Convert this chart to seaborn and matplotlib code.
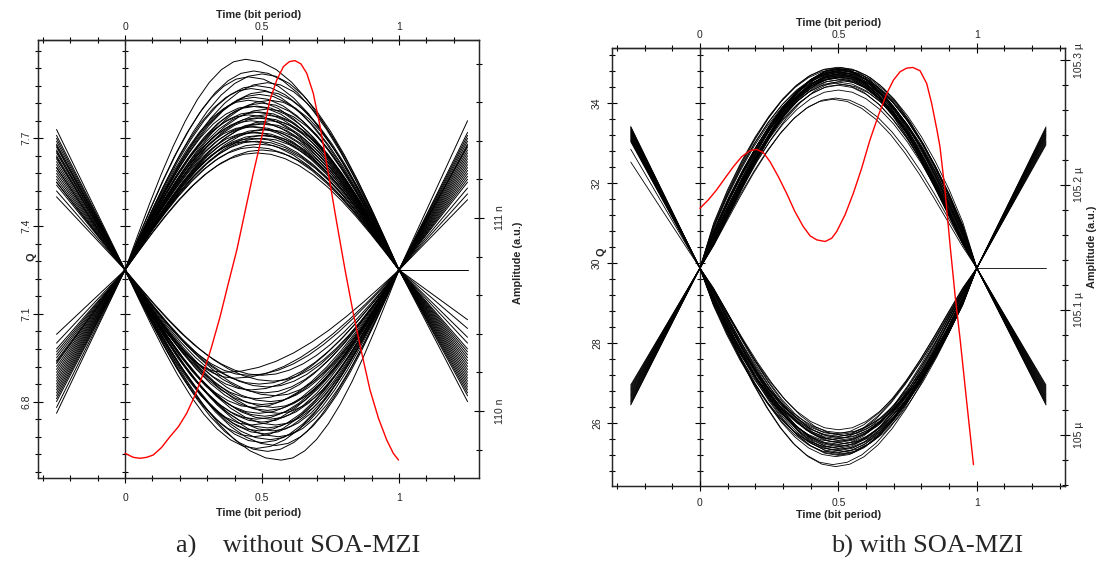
import numpy as np
import pandas as pd
import matplotlib
matplotlib.use("Agg")
import matplotlib.pyplot as plt
import seaborn as sns
from matplotlib.ticker import MultipleLocator, FixedLocator, FuncFormatter

# ---------------- data ----------------
# normalised pulse shape (one bit, u = 0..1) used for each eye trace
shape_u = [0.00, 0.05, 0.10, 0.15, 0.20, 0.25, 0.30, 0.35, 0.40, 0.45, 0.50,
           0.55, 0.60, 0.65, 0.70, 0.75, 0.80, 0.85, 0.90, 0.95, 1.00]
shape_v = [0.000, 0.156, 0.309, 0.454, 0.588, 0.707, 0.809, 0.891, 0.951, 0.988, 1.000,
           0.988, 0.951, 0.891, 0.809, 0.707, 0.588, 0.454, 0.309, 0.156, 0.000]
x_ticks = [0, 0.5, 1]

# ---- panel a) without SOA-MZI ----
cross_a = 7.25
q_ticks_a = [6.8, 7.1, 7.4, 7.7]
amp_ticks_a = [110, 111]
top_peak_a = [7.97, 7.93, 7.92, 7.91, 7.89, 7.88, 7.87, 7.86, 7.85, 7.84, 7.83, 7.83, 7.82, 7.81,
              7.81, 7.80, 7.79, 7.79, 7.78, 7.78, 7.77, 7.77, 7.76, 7.76, 7.75, 7.75, 7.74, 7.74,
              7.73, 7.73, 7.72, 7.72, 7.71, 7.71, 7.70, 7.70, 7.69, 7.69, 7.68, 7.67, 7.66, 7.65]
top_time_a = [0.44, 0.47, 0.50, 0.45, 0.52, 0.48, 0.46, 0.51, 0.49, 0.47, 0.53, 0.45, 0.50, 0.48,
              0.46, 0.52, 0.49, 0.47, 0.51, 0.45, 0.50, 0.48, 0.53, 0.46, 0.49, 0.51, 0.47, 0.45,
              0.50, 0.52, 0.48, 0.46, 0.49, 0.51, 0.47, 0.50, 0.48, 0.45, 0.49, 0.47, 0.50, 0.48]
bot_peak_a = [6.60, 6.63, 6.64, 6.65, 6.66, 6.67, 6.68, 6.68, 6.69, 6.70, 6.70, 6.71, 6.72, 6.72,
              6.73, 6.74, 6.74, 6.75, 6.76, 6.76, 6.77, 6.78, 6.78, 6.79, 6.80, 6.81, 6.82, 6.83,
              6.84, 6.85, 6.86, 6.87, 6.88, 6.89, 6.90, 6.89]
bot_time_a = [0.57, 0.52, 0.48, 0.55, 0.50, 0.53, 0.47, 0.56, 0.51, 0.49, 0.54, 0.52, 0.46, 0.55,
              0.50, 0.53, 0.48, 0.51, 0.56, 0.49, 0.52, 0.47, 0.54, 0.50, 0.53, 0.48, 0.55, 0.51,
              0.46, 0.52, 0.49, 0.54, 0.40, 0.50, 0.36, 0.45]
edge_top_l_a = [7.73, 7.71, 7.70, 7.69, 7.68, 7.675, 7.67, 7.66, 7.655, 7.65, 7.64, 7.635, 7.63,
                7.62, 7.61, 7.60, 7.60, 7.59, 7.58, 7.57, 7.56, 7.55, 7.55, 7.54, 7.52, 7.50]
edge_bot_l_a = [7.03, 7.00, 6.98, 6.97, 6.96, 6.95, 6.94, 6.935, 6.93, 6.92, 6.91, 6.90, 6.89,
                6.88, 6.87, 6.86, 6.85, 6.84, 6.83, 6.82, 6.81, 6.80, 6.78, 6.76]
edge_top_r_a = [7.76, 7.72, 7.71, 7.70, 7.69, 7.68, 7.675, 7.67, 7.66, 7.65, 7.64, 7.63, 7.62,
                7.61, 7.60, 7.59, 7.58, 7.57, 7.56, 7.55, 7.53, 7.51, 7.49]
edge_bot_r_a = [7.08, 7.05, 7.02, 7.00, 6.98, 6.97, 6.96, 6.95, 6.94, 6.93, 6.92, 6.91, 6.90,
                6.89, 6.88, 6.87, 6.86, 6.85, 6.84, 6.83, 6.82, 6.80]
red_t_a = [0.000, 0.030, 0.055, 0.079, 0.103, 0.134, 0.164, 0.195, 0.225, 0.256, 0.286, 0.316,
           0.347, 0.377, 0.408, 0.438, 0.468, 0.499, 0.529, 0.554, 0.578, 0.600, 0.620, 0.642,
           0.663, 0.687, 0.712, 0.742, 0.773, 0.803, 0.833, 0.864, 0.894, 0.925, 0.955, 0.979, 0.998]
red_amp_a = [109.781, 109.760, 109.755, 109.760, 109.772, 109.812, 109.867, 109.919, 109.988,
             110.083, 110.195, 110.333, 110.489, 110.661, 110.834, 111.033, 111.231, 111.421,
             111.611, 111.715, 111.784, 111.810, 111.815, 111.798, 111.750, 111.646, 111.473,
             111.231, 110.972, 110.731, 110.506, 110.299, 110.109, 109.962, 109.850, 109.781,
             109.746]

# ---- panel b) with SOA-MZI ----
cross_b = 29.88
q_ticks_b = [26, 28, 30, 32, 34]
amp_ticks_b = [105.0, 105.1, 105.2, 105.3]
top_peak_b = [34.90, 34.89, 34.88, 34.87, 34.86, 34.85, 34.84, 34.83, 34.82, 34.81, 34.80, 34.79,
              34.78, 34.77, 34.76, 34.75, 34.74, 34.73, 34.72, 34.71, 34.70, 34.69, 34.68, 34.67,
              34.66, 34.65, 34.64, 34.62, 34.60, 34.58, 34.56, 34.53, 34.50, 34.47, 34.45, 34.33,
              34.13, 34.10]
top_time_b = [0.50, 0.51, 0.49, 0.50, 0.52, 0.50, 0.49, 0.51, 0.50, 0.52, 0.49, 0.50, 0.51, 0.50,
              0.49, 0.52, 0.50, 0.51, 0.49, 0.50, 0.51, 0.50, 0.52, 0.49, 0.50, 0.51, 0.50, 0.49,
              0.51, 0.50, 0.52, 0.50, 0.49, 0.51, 0.50, 0.50, 0.49, 0.48]
top_sharp_b = [0.80, 1.10, 0.85, 1.15, 0.90, 1.05, 0.82, 1.12, 0.95, 0.88, 1.08, 0.84, 1.14, 0.92,
               1.02, 0.86, 1.10, 0.96, 0.83, 1.06, 0.90, 1.12, 0.98, 0.85, 1.04, 0.88, 1.10, 0.94,
               1.00, 0.90, 1.05, 0.95, 1.00, 0.92, 1.00, 1.00, 1.05, 1.10]
bot_peak_b = [25.84, 25.76, 25.74, 25.72, 25.70, 25.68, 25.66, 25.64, 25.62, 25.60, 25.58, 25.56,
              25.54, 25.52, 25.50, 25.48, 25.46, 25.44, 25.42, 25.40, 25.38, 25.36, 25.34, 25.32,
              25.30, 25.28, 25.26, 25.24, 25.22, 25.20, 25.17, 24.97, 24.92]
bot_time_b = [0.50, 0.51, 0.49, 0.50, 0.52, 0.50, 0.49, 0.51, 0.50, 0.48, 0.50, 0.51, 0.49, 0.50,
              0.52, 0.50, 0.49, 0.51, 0.50, 0.48, 0.50, 0.51, 0.49, 0.50, 0.52, 0.50, 0.49, 0.51,
              0.50, 0.50, 0.49, 0.48, 0.49]
bot_sharp_b = [1.05, 0.85, 1.12, 0.90, 1.08, 0.82, 1.15, 0.94, 0.86, 1.10, 0.92, 1.04, 0.84, 1.13,
               0.96, 0.88, 1.07, 0.90, 1.02, 0.85, 1.10, 0.95, 0.87, 1.06, 0.92, 1.00, 0.89, 1.08,
               0.97, 1.02, 0.95, 1.00, 1.00]
edge_top_l_b = [33.42, 33.40, 33.38, 33.36, 33.34, 33.32, 33.30, 33.28, 33.26, 33.24, 33.22, 33.20,
                33.18, 33.16, 33.14, 33.12, 33.10, 33.08, 33.06, 33.04, 32.85, 32.53]
edge_bot_l_b = [26.96, 26.93, 26.90, 26.87, 26.84, 26.81, 26.78, 26.75, 26.72, 26.69, 26.66, 26.63,
                26.60, 26.57, 26.54, 26.51, 26.48, 26.46]
edge_top_r_b = [33.41, 33.38, 33.36, 33.33, 33.30, 33.28, 33.25, 33.22, 33.20, 33.17, 33.14, 33.11,
                33.08, 33.05, 33.02, 32.99, 32.96]
edge_bot_r_b = [26.96, 26.93, 26.90, 26.87, 26.84, 26.81, 26.78, 26.75, 26.72, 26.69, 26.66, 26.63,
                26.60, 26.57, 26.54, 26.51, 26.48, 26.46]
red_t_b = [0.000, 0.030, 0.060, 0.090, 0.121, 0.151, 0.181, 0.205, 0.229, 0.253, 0.283, 0.313,
           0.343, 0.373, 0.398, 0.422, 0.452, 0.476, 0.494, 0.524, 0.554, 0.584, 0.614, 0.645,
           0.675, 0.699, 0.723, 0.747, 0.769, 0.795, 0.819, 0.837, 0.855, 0.867, 0.885, 0.904,
           0.922, 0.940, 0.964, 0.988]
red_amp_b = [105.1813, 105.1880, 105.1960, 105.2053, 105.2147, 105.2227, 105.2275, 105.2285,
             105.2259, 105.2187, 105.2067, 105.1933, 105.1787, 105.1667, 105.1592, 105.1560,
             105.1547, 105.1573, 105.1627, 105.1760, 105.1933, 105.2133, 105.2360, 105.2560,
             105.2733, 105.2840, 105.2907, 105.2936, 105.2941, 105.2915, 105.2813, 105.2653,
             105.2453, 105.2307, 105.1960, 105.1507, 105.1107, 105.0760, 105.0253, 104.9760]

caption_a = "a)    without SOA-MZI"
caption_b = "b) with SOA-MZI"
x_label = "Time (bit period)"
q_label = "Q"
amp_label = "Amplitude (a.u.)"

# ---------------- build long-form tables ----------------
def eye_table(cross, peaks, times, sharp=None, el=(), eb=(), er=(), ebr=(), start=0, flat=False):
    rows = []
    uid = start
    u = np.array(shape_u)
    v = np.array(shape_v)
    if sharp is None:
        sharp = [1.0] * len(peaks)
    for p, tp, k in zip(peaks, times, sharp):
        t = np.where(u <= 0.5, 2 * u * tp, tp + (2 * u - 1) * (1 - tp))
        for ti, vi in zip(t, cross + (p - cross) * v ** k):
            rows.append((uid, ti, vi))
        uid += 1
    for e in list(el) + list(eb):
        rows.append((uid, -0.25, e)); rows.append((uid, 0.0, cross)); uid += 1
    ends = list(er) + list(ebr) + ([cross] if flat else [])
    for e in ends:
        rows.append((uid, 1.0, cross)); rows.append((uid, 1.25, e)); uid += 1
    return pd.DataFrame(rows, columns=["trace", "t", "Q"])

df_a = pd.concat([
    eye_table(cross_a, top_peak_a, top_time_a, None, edge_top_l_a, edge_bot_l_a,
              edge_top_r_a, edge_bot_r_a, start=0, flat=True),
    eye_table(cross_a, bot_peak_a, bot_time_a, start=1000)])
df_b = pd.concat([
    eye_table(cross_b, top_peak_b, top_time_b, top_sharp_b, edge_top_l_b, edge_bot_l_b,
              edge_top_r_b, edge_bot_r_b, start=0, flat=True),
    eye_table(cross_b, bot_peak_b, bot_time_b, bot_sharp_b, start=1000)])
red_a = pd.DataFrame({"t": red_t_a, "amp": red_amp_a})
red_b = pd.DataFrame({"t": red_t_b, "amp": red_amp_b})

# ---------------- style ----------------
sns.set_style("ticks")
plt.rcParams["font.family"] = ["Liberation Sans", "DejaVu Sans"]
plt.rcParams["font.size"] = 7.5
plt.rcParams["axes.linewidth"] = 0.9

fig = plt.figure(figsize=(10.99, 5.63), dpi=100)
ax_a = fig.add_axes([0.0346, 0.1510, 0.4013, 0.7780])
ax_b = fig.add_axes([0.5573, 0.1371, 0.4121, 0.7783])

def tick_style(axis_obj, **kw):
    axis_obj.tick_params(which="both", direction="inout", width=0.8, color="black",
                         labelsize=7.5, **kw)
    axis_obj.tick_params(which="major", length=7)
    axis_obj.tick_params(which="minor", length=4.5)

def panel(ax, df, red, lw, xlim, ylim, qticks, ymin_loc, alim, aticks, amin, afmt,
          pads, lab_pos):
    sns.lineplot(data=df, x="t", y="Q", units="trace", estimator=None, sort=False,
                 color="black", lw=lw, ax=ax, legend=False)
    ax.set_xlim(*xlim); ax.set_ylim(*ylim)
    ax.set_xlabel(""); ax.set_ylabel("")
    ax.xaxis.set_major_locator(FixedLocator(x_ticks))
    ax.xaxis.set_minor_locator(MultipleLocator(0.1))
    ax.yaxis.set_major_locator(FixedLocator(qticks))
    ax.yaxis.set_minor_locator(ymin_loc())
    ax.xaxis.set_major_formatter(FuncFormatter(lambda v, p: f"{v:g}"))
    ax.yaxis.set_major_formatter(FuncFormatter(lambda v, p: f"{round(v, 2):g}"))
    tick_style(ax, left=True, bottom=True, top=False, right=False)
    ax.tick_params(axis="y", pad=pads[0], labelrotation=90)
    ax.tick_params(axis="x", pad=pads[2])
    for lb in ax.get_yticklabels():
        lb.set_va("center")

    # top time axis
    sx = ax.secondary_xaxis("top")
    sx.xaxis.set_major_locator(FixedLocator(x_ticks))
    sx.xaxis.set_minor_locator(MultipleLocator(0.1))
    sx.xaxis.set_major_formatter(FuncFormatter(lambda v, p: f"{v:g}"))
    tick_style(sx)
    sx.tick_params(axis="x", pad=pads[3])

    # inner Q axis at t = 0
    frac = (0 - xlim[0]) / (xlim[1] - xlim[0])
    sy = ax.secondary_yaxis(frac)
    sy.yaxis.set_major_locator(FixedLocator(qticks))
    sy.yaxis.set_minor_locator(ymin_loc())
    sy.yaxis.set_major_formatter(FuncFormatter(lambda v, p: ""))
    tick_style(sy, labelleft=False, labelright=False)
    sy.spines["left"].set_linewidth(1.0)

    # amplitude axis with the red pulse
    ax2 = ax.twinx()
    sns.lineplot(data=red, x="t", y="amp", sort=False, color="red", lw=1.0, ax=ax2, legend=False)
    ax2.set_xlim(*xlim)
    ax2.set_ylim(*alim)
    ax2.set_xlabel(""); ax2.set_ylabel("")
    ax2.yaxis.set_major_locator(FixedLocator(aticks))
    ax2.yaxis.set_minor_locator(MultipleLocator(amin))
    ax2.yaxis.set_major_formatter(FuncFormatter(afmt))
    tick_style(ax2, right=True, left=False)
    ax2.tick_params(axis="y", pad=pads[1], labelrotation=90)
    for lb in ax2.get_yticklabels():
        lb.set_va("center")
    for sp in ax2.spines.values():
        sp.set_linewidth(0.9)

    bold = dict(fontweight="bold", fontsize=7.8, ha="center", va="center")
    ax.text(0.5, lab_pos[0], x_label, transform=ax.transAxes, **bold)
    ax.text(0.5, lab_pos[1], x_label, transform=ax.transAxes, **bold)
    ax.text(lab_pos[2], lab_pos[3], q_label, transform=ax.transAxes, rotation=90, **bold)
    ax.text(lab_pos[4], lab_pos[5], amp_label, transform=ax.transAxes, rotation=90, **bold)

panel(ax_a, df_a, red_a, 0.7, (-0.3175, 1.292), (6.539, 8.036),
      q_ticks_a, lambda: MultipleLocator(0.06, offset=0.02),
      (109.653, 111.922), amp_ticks_a, 0.2, lambda v, p: f"{v:g} n",
      pads=(1.0, 8.0, 7.0, 2.0),
      lab_pos=(-0.080, 1.057, -0.014, 0.505, 1.088, 0.491))
panel(ax_b, df_b, red_b, 0.6, (-0.316, 1.32), (24.44, 35.39),
      q_ticks_b, lambda: MultipleLocator(0.4),
      (104.959, 105.31), amp_ticks_b, 0.02, lambda v, p: f"{round(v, 3):g} µ",
      pads=(4.0, 3.0, 5.0, 2.0),
      lab_pos=(-0.066, 1.056, -0.024, 0.534, 1.058, 0.546))

serif = dict(family=["Liberation Serif", "DejaVu Serif"], fontsize=19, va="center", ha="left")
fig.text(176 / 1099, 1 - 546 / 563, caption_a, **serif)
fig.text(831 / 1099, 1 - 546 / 563, caption_b, **serif)

fig.savefig("out.png", dpi=100)
